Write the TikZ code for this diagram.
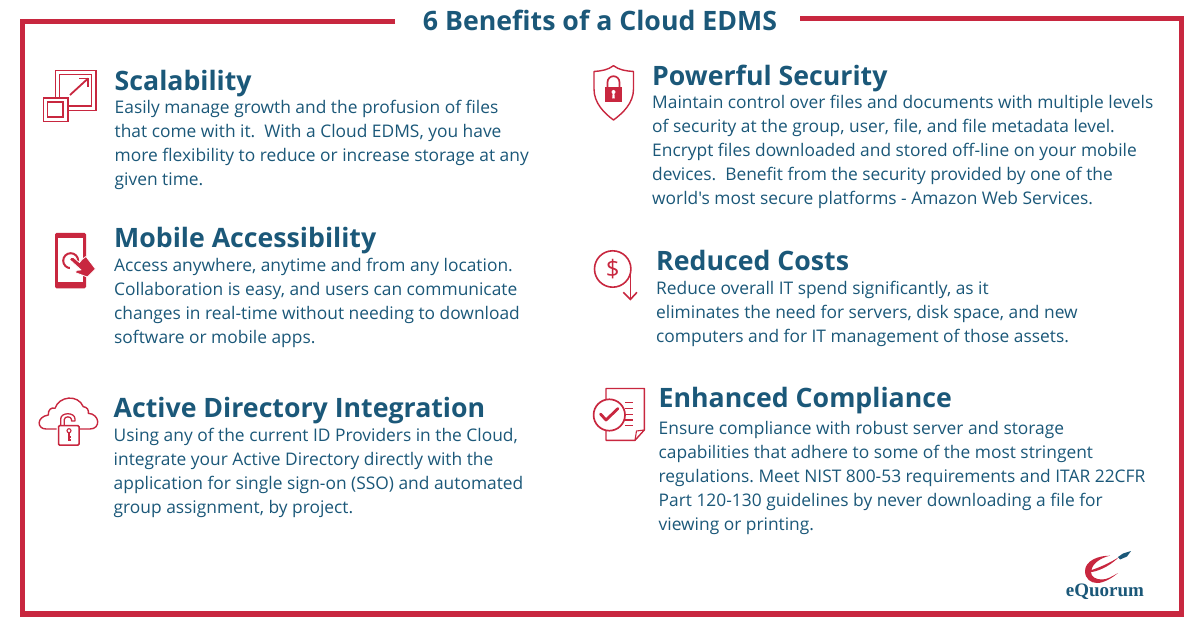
\documentclass[tikz,border=0pt]{standalone}
\usepackage{fontspec}
\newfontfamily\opensans{Open Sans}
\newfontfamily\logofont{Liberation Serif}
\definecolor{brandred}{HTML}{C8273F}
\definecolor{brandblue}{HTML}{1B5879}
\tikzset{
  x=1pt,y=-1pt,
  headtext/.style={anchor=base west,inner sep=0pt,text=brandblue,font=\opensans\fontsize{26.7}{30}\selectfont\bfseries},
  bodytext/.style={anchor=north west,inner sep=0pt,text=brandblue,align=left,font=\opensans\frenchspacing\fontsize{17.37}{24}\selectfont},
  ico/.style={draw=brandred,line width=1.8pt,fill=none},
}
\begin{document}
\begin{tikzpicture}
\useasboundingbox (0,0) rectangle (1200,628);
\fill[white] (0,0) rectangle (1200,628);
% frame
\draw[brandred,line width=5.5pt,line join=miter] (395,21.5) -- (22.5,21.5) -- (22.5,614) -- (1181.5,614) -- (1181.5,18.5) -- (800,18.5);
\node[anchor=base,inner sep=0pt,text=brandblue,font=\opensans\fontsize{26.7}{30}\selectfont\bfseries] (title) at (600,31) {6 Benefits of a Cloud EDMS};

% headings
\node[headtext] (h1) at (114.5,91) {Scalability};
\node[headtext] (h2) at (114,248) {Mobile Accessibility};
\node[headtext] (h3) at (113.5,417.5) {Active Directory Integration};
\node[headtext] (h4) at (652,86) {Powerful Security};
\node[headtext] (h5) at (656,270.5) {Reduced Costs};
\node[headtext] (h6) at (658.5,407) {Enhanced Compliance};

% bodies
\node[bodytext] (b1) at (114.5,100) {Easily manage growth and the profusion of files\\that come with it.\ \ With a Cloud EDMS, you have\\more flexibility to reduce or increase storage at any\\given time.};
\node[bodytext] (b2) at (114,258) {Access anywhere, anytime and from any location.\\Collaboration is easy, and users can communicate\\changes in real-time without needing to download\\software or mobile apps.};
\node[bodytext] (b3) at (113.5,428) {Using any of the current ID Providers in the Cloud,\\integrate your Active Directory directly with the\\application for single sign-on (SSO) and automated\\group assignment, by project.};
\node[bodytext] (b4) at (652,95) {Maintain control over files and documents with multiple levels\\of security at the group, user, file, and file metadata level.\\Encrypt files downloaded and stored off-line on your mobile\\devices.\ \ Benefit from the security provided by one of the\\world's most secure platforms - Amazon Web Services.};
\node[bodytext] (b5) at (656,281) {Reduce overall IT spend significantly, as it\\eliminates the need for servers, disk space, and new\\computers and for IT management of those assets.};
\node[bodytext] (b6) at (658.5,421) {Ensure compliance with robust server and storage\\capabilities that adhere to some of the most stringent\\regulations. Meet NIST 800-53 requirements and ITAR 22CFR\\Part 120-130 guidelines by never downloading a file for\\viewing or printing.};

% icon 1 scalability
\draw[ico] (55.5,70.5) rectangle (96,110.5);
\draw[ico] (59.5,74.5) rectangle (91.5,106);
\fill[white] (43,97) rectangle (68,122);
\draw[ico] (43.5,97.7) rectangle (67.7,121.5);
\draw[ico] (47.5,101.7) rectangle (63.3,117.3);
\draw[brandred,line width=1.8pt] (70,95) -- (88,78.5);
\draw[brandred,line width=1.8pt] (79,78.5) -- (88.3,78.5) -- (88.3,87);

% icon 2 mobile
\fill[brandred,rounded corners=1.5pt] (55,233) rectangle (86,288.5);
\fill[white] (57.5,238) rectangle (83.3,282);
\draw[brandred,line width=2pt] (70.7,260.7) circle[radius=7.5];
\fill[white] (70,262) rectangle (79,271);
\fill[brandred,draw=white,line width=0.8pt,line join=round] (69.5,259.5) .. controls (70,257.5) and (72,256.5) .. (73.5,257.5) -- (79.5,262.5) -- (82,259.5) -- (86,256.5) -- (95.5,269) -- (87.3,277) -- (75,272.5) .. controls (75,270.5) and (78,269.5) .. (81,270) -- cycle;

% icon 3 cloud lock
\draw[brandred,line width=1.4pt,line join=round] (56.7,429) -- (46,429) .. controls (37,429) and (36,417) .. (48.3,415) .. controls (48,410) and (51,407) .. (55,408.3) .. controls (59,396) and (78,394) .. (83.3,406.7) .. controls (87,407) and (89,410) .. (88.3,413.3) .. controls (100,414) and (101,429) .. (90,429) -- (80,429);
\draw[brandred,line width=1.5pt,rounded corners=1pt] (58.5,425.7) rectangle (79,445);
\draw[brandred,line width=1.3pt,line join=round] (60.7,425.7) -- (60.7,419) .. controls (60.7,412) and (75,412) .. (75,419) -- (75,421) -- (71.5,421) -- (71.5,419.5) .. controls (71.5,416) and (64.3,416) .. (64.3,419.5) -- (64.3,425.7);
\draw[brandred,line width=1.1pt] (69,430.7) circle[radius=2];
\draw[brandred,line width=1.1pt] (69,432.7) -- (69,441) (69,437) -- (71,437) (69,440) -- (71,440);

% icon 4 shield
\draw[brandred,line width=1.4pt,line join=round] (613.5,65.7) .. controls (608,70) and (601,71) .. (594,71.5) -- (594,89) .. controls (594,103) and (604,113) .. (613.5,120) .. controls (623,113) and (633.5,103) .. (633.5,89) -- (633.5,71.5) .. controls (626,71) and (619,70) .. (613.5,65.7) -- cycle;
\fill[brandred] (605,87) rectangle (622,102);
\draw[brandred,line width=1.7pt] (607.5,87) -- (607.5,82.2) arc[start angle=180,end angle=360,radius=6] -- (619.5,87);
\fill[white] (613.5,92) circle[radius=2];
\fill[white] (612.7,92.5) -- (614.3,92.5) -- (614.8,98.5) -- (612.2,98.5) -- cycle;

% icon 5 dollar
\draw[brandred,line width=1.6pt] (612.7,269) circle[radius=18.2];
\draw[brandred,line width=1.6pt] (630.4,269) -- (630.4,299);
\draw[brandred,line width=1.6pt] (623.3,292.3) -- (630.4,299.4) -- (637,292.3);
\node[inner sep=0pt,text=brandred,font=\opensans\fontsize{24}{24}\selectfont] (dollar) at (612.7,269) {\$};

% icon 6 doc
\draw[brandred,line width=1.4pt,line join=round] (606,400) -- (606,388.5) -- (644.3,388.5) -- (644.3,430) -- (635,440.3) -- (606,440.3) -- (606,430);
\draw[brandred,line width=1.1pt,line join=round] (644.3,430) -- (636.5,431) -- (635,440.3);
\foreach \yy in {402.7,408.3,414.3,420,425.7} \draw[brandred,line width=1.3pt] (625,\yy) -- (633,\yy);
\fill[white] (609.3,415) circle[radius=15.7];
\draw[brandred,line width=1.7pt] (609.3,415) circle[radius=15.7];
\draw[brandred,line width=2.8pt,line cap=round,line join=round] (600.5,414) -- (606,420) -- (618,408.5);

% logo
\fill[brandred] (1110,555.7) .. controls (1098,555.5) and (1085,561) .. (1085,571) .. controls (1085,579) and (1091,583) .. (1097,583) .. controls (1104,583) and (1112,578) .. (1118,573) .. controls (1112,576.5) and (1107,579.5) .. (1102,579.5) .. controls (1096,579.5) and (1091,577) .. (1091,572) .. controls (1095,572) and (1108,568) .. (1119,557) .. controls (1110,563) and (1098,568) .. (1091.5,570) .. controls (1092,565) and (1099,558) .. (1110,555.7) -- cycle;
\fill[brandblue] (1118,557) -- (1123,553.5) -- (1131,551) -- (1127,556.5) -- (1120,559.5) -- cycle;
\node[anchor=base,inner sep=0pt,text=brandblue,font=\logofont\fontsize{19}{19}\selectfont\bfseries] (logo) at (1105,596) {eQuorum};
\end{tikzpicture}
\end{document}
